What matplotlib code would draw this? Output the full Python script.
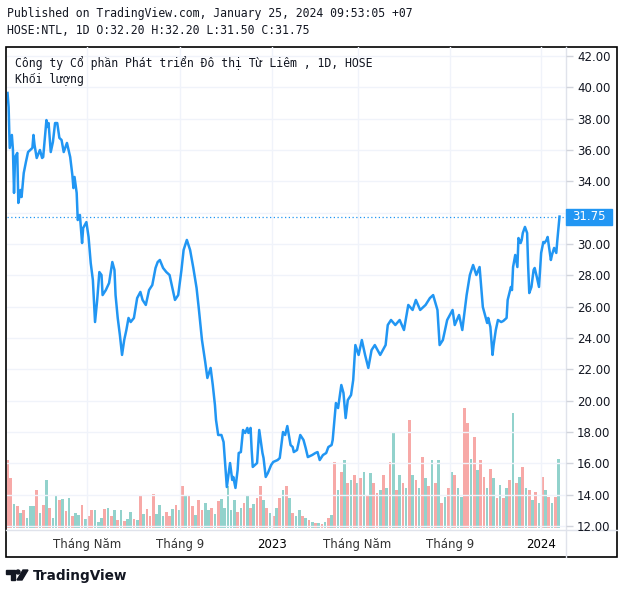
import numpy as np
import matplotlib.pyplot as plt
from matplotlib.patches import Rectangle, Polygon, Circle
import matplotlib.transforms as mtransforms

# phiên giao dịch đầu tiên trên biểu đồ và các ngày nghỉ của HOSE
start_day = '2022-01-10'
holidays = ['2022-01-31', '2022-02-01', '2022-02-02', '2022-02-03', '2022-02-04',
            '2022-04-11', '2022-05-02', '2022-05-03', '2022-09-01', '2022-09-02',
            '2023-01-02', '2023-01-20', '2023-01-23', '2023-01-24', '2023-01-25',
            '2023-01-26', '2023-05-01', '2023-05-02', '2023-05-03', '2023-09-01',
            '2023-09-04', '2024-01-01']

tick_dates = ['2022-05-04', '2022-09-05', '2023-01-03', '2023-05-04', '2023-09-05', '2024-01-02']
tick_labels = ['Tháng Năm', 'Tháng 9', '2023', 'Tháng Năm', 'Tháng 9', '2024']

# giá đóng cửa (chỉ số phiên, giá)
price_idx = [0, 1, 2, 4, 5, 6, 7, 9, 10, 12, 13, 15, 17, 19, 23, 24, 25, 27, 30, 32,
             33, 36, 37, 38, 40, 42, 44, 46, 48, 50, 52, 55, 58, 60, 61, 62, 64, 65, 67, 69,
             70, 73, 75, 77, 79,
             81, 83, 85, 87, 88, 91, 94, 97, 99, 100, 102, 104, 106, 108, 110, 112, 114, 117,
             120, 123, 125, 128, 131, 134, 137, 139, 141, 144, 147, 150, 152, 155, 158, 161,
             163, 166, 169, 172, 175, 177, 180, 183, 185, 188, 190, 192, 193,
             195, 198, 200, 203, 206, 208, 209, 211, 213, 214, 216, 218, 220, 222, 223, 225,
             226, 227, 231, 233, 236, 237, 239, 241, 244, 246, 250, 252, 255, 257, 259, 262,
             264, 265, 268, 271, 274, 276, 278, 282, 285, 287, 289, 292, 295, 297, 300, 301,
             304, 306, 309, 311, 313, 315, 318, 320,
             322, 325, 328, 331, 334, 337, 340, 345, 350, 352, 355, 359, 363, 367, 371, 375,
             378, 382, 387, 391, 394, 398, 400, 403, 407, 412, 414, 418, 421, 425, 428, 431,
             434, 437,
             440, 444, 445, 447, 449, 450, 452, 454, 457, 459, 462, 463, 466, 467, 468, 470,
             472, 473, 475, 476, 477, 479, 481, 482, 483, 485, 487, 488, 490, 492, 494, 496,
             497, 499, 500, 501, 503, 504, 506, 508, 509, 511]
price = [39.64, 38.74, 36.13, 36.96, 36.00, 33.26, 35.55, 35.81, 32.62, 33.45, 33.00, 34.53,
         35.23, 35.87, 36.13, 36.96, 36.32, 35.49, 36.00, 35.49, 35.55, 37.91, 37.47, 37.72,
         35.87, 36.51, 37.72, 37.72, 36.77, 36.64, 35.87, 36.45, 35.55, 34.40, 33.57, 34.28,
         33.26, 31.53, 31.85, 30.06, 31.02, 31.40, 30.45, 28.79, 27.70,
         25.02, 26.43, 28.21, 28.02, 26.74, 27.06, 27.51, 28.85, 28.34, 26.74, 25.28, 24.19,
         22.92, 23.87, 24.51, 25.28, 25.02, 25.28, 26.55, 26.94, 26.43, 26.11, 27.06, 27.38,
         28.47, 28.85, 28.98, 28.47, 28.21, 28.02, 27.38, 26.43, 26.74, 28.34, 29.62, 30.26,
         29.62, 28.47, 27.19, 25.92, 23.87, 22.47, 21.45, 22.09, 21.00, 19.72, 18.77,
         17.81, 17.81, 17.36, 14.49, 16.02, 14.94, 15.13, 14.43, 15.57, 16.66, 16.72, 18.13,
         17.94, 18.26, 17.94, 18.26, 16.85, 15.77, 16.02, 18.13, 16.66, 16.34, 15.13, 15.38,
         15.89, 16.09, 16.21, 16.34, 18.00, 17.81, 18.38, 17.17, 17.04, 16.72, 16.85, 17.81,
         17.49, 16.98, 16.40, 16.53, 16.66, 16.72, 16.21, 16.53, 16.66, 17.04, 17.17, 17.49,
         19.85, 19.53, 21.00, 20.49, 18.89, 20.04, 20.36, 21.32,
         23.55, 22.92, 23.87, 22.92, 22.09, 23.23, 23.55, 22.92, 23.55, 24.83, 25.15, 24.83,
         25.15, 24.51, 26.11, 25.79, 26.43, 25.79, 26.11, 26.55, 26.74, 25.79, 23.55, 23.87,
         25.15, 25.79, 24.83, 25.47, 24.51, 26.74, 28.02, 28.66, 28.02, 28.53,
         25.98, 24.96, 25.28, 24.70, 22.92, 23.55, 24.51, 25.15, 25.02, 25.09, 25.28, 26.43,
         27.26, 27.06, 28.53, 29.30, 28.53, 30.38, 30.06, 30.26, 30.70, 31.09, 30.70, 28.53,
         26.87, 27.26, 28.34, 28.47, 27.89, 27.26, 29.43, 30.13, 30.06, 30.26, 30.45, 29.94,
         28.98, 29.30, 29.75, 29.43, 30.26, 31.75]

# khối lượng (nghìn cp), mỗi cột đại diện 3 phiên
vol_step = 3
volume = [68, 50, 24, 22, 15, 18, 10, 22, 22, 38, 15, 23, 48, 20, 10, 33, 28, 29, 17, 30,
          12, 15, 13, 23, 9, 12, 18, 18, 6, 10, 19, 20, 12, 18, 8, 18, 7, 9, 16, 9,
          8, 32, 14, 19, 12, 34, 14, 23, 12, 16, 12, 19, 23, 18, 42, 33, 33, 22, 13, 28,
          18, 25, 18, 20, 14, 27, 29, 20, 42, 18, 28, 16, 20, 25, 33, 20, 24, 30, 42, 28,
          20, 15, 12, 20, 30, 38, 42, 30, 15, 12, 18, 12, 10, 8, 6, 5, 5, 4, 6, 10,
          13, 66, 38, 56, 68, 45, 48, 53, 45, 50, 56, 33, 55, 45, 35, 38, 53, 40, 66, 96,
          38, 53, 45, 40, 108, 53, 48, 40, 71, 50, 42, 68, 45, 68, 25, 31, 40, 56, 53, 40,
          31, 120, 105, 69, 91, 58, 68, 51, 40, 59, 50, 30, 43, 30, 40, 48, 115, 45, 51, 61,
          40, 38, 28, 36, 25, 51, 38, 31, 25, 31, 69]
vol_dir = ('rrtrtrttt' 'rtrtrttrtr' 'trttrtrrtt' 'trtrtrtrtt' 'rtrtrrrtttrrtr'
           'trtrrtrrtt' 'rtrtttttr' 'trtrtrrtrt' 'rtrtrtrttr' 'tr'
           'trtrtrtrtrtrtrtrtrtrrtr' 'trtrtrtrtrtrtrtrtrtr' 'trttrrtrtrr' 'trtrtrtrtrtrtrtrtrtrtrtrtrtr')

line_color = '#2196f3'
up_color = '#92d2cc'
down_color = '#f7a9a7'
grid_color = '#f0f3fa'
text_color = '#131722'

W, H = 623, 594
fig = plt.figure(figsize=(W / 100, H / 100), dpi=100)

left, right, top, bottom = 7, 566, 47, 530
ax = fig.add_axes([left / W, 1 - bottom / H, (right - left) / W, (bottom - top) / H])
ax2 = ax.twinx()
ax.set_zorder(2)
ax2.set_zorder(1)
ax.patch.set_visible(False)

def bar_no(d):
    return np.busday_count(start_day, d, holidays=holidays)

tick_pos = [bar_no(d) for d in tick_dates]

# volume
vol_x = np.arange(len(volume)) * vol_step
colors = [up_color if vol_dir[i % len(vol_dir)] == 't' else down_color for i in range(len(volume))]
ax2.bar(vol_x, volume, width=2.5, color=colors, linewidth=0)
ax2.set_ylim(-2, 481)
ax2.set_yticks([])

# price
ax.plot(price_idx, price, color=line_color, lw=1.8, solid_joinstyle='round', zorder=3)
last = price[-1]
ax.axhline(last, color=line_color, lw=0.9, ls=(0, (1, 2)), zorder=2)

ax.set_xlim(-0.5, 517)
ax.set_ylim(42 - (bottom - 56) / 15.667, 42 + (56 - top) / 15.667)

yt = np.arange(12, 43, 2)
ax.yaxis.tick_right()
ax.set_yticks(yt)
ax.set_yticklabels([f'{v:.2f}' for v in yt])
ax.set_xticks(tick_pos)
ax.set_xticklabels(tick_labels)
ax.tick_params(axis='y', length=5, width=1, color='#d1d4dc', pad=3, labelsize=8.5,
               labelcolor=text_color)
ax.tick_params(axis='x', length=0, pad=6, labelsize=8.5, labelcolor='#333333')
for lab in ax.get_xticklabels():
    if lab.get_text().isdigit():
        lab.set_color('#000000')
ax.grid(True, color=grid_color, lw=1)
for s in ax.spines.values():
    s.set_visible(False)
for s in ax2.spines.values():
    s.set_visible(False)

# nhãn giá cuối
tr = mtransforms.blended_transform_factory(ax.transAxes, ax.transData)
box_w = 46 / (right - left)
box_h = 16 / 15.667
ax.add_patch(Rectangle((1.0, last - box_h / 2), box_w, box_h, transform=tr,
                       color=line_color, clip_on=False, zorder=6))
ax.text(1.0 + box_w / 2, last, f'{last:.2f}', transform=tr, ha='center', va='center',
        color='white', fontsize=8.5, zorder=7, clip_on=False)

# khung và đường phân cách
figpx = mtransforms.Affine2D().scale(1 / W, -1 / H).translate(0, 1) + fig.transFigure
fig.add_artist(Rectangle((6, 47), 611, 510, transform=figpx, fill=False, ec='black', lw=1.2))
fig.add_artist(plt.Line2D([6, 617], [530, 530], transform=figpx, color='#e0e3eb', lw=1))
fig.add_artist(plt.Line2D([566, 566], [47, 557], transform=figpx, color='#e0e3eb', lw=1))

mono = ['DejaVu Sans Mono', 'Liberation Mono', 'Noto Sans']
fig.text(7 / W, 1 - 14 / H, 'Published on TradingView.com, January 25, 2024 09:53:05 +07',
         family=mono, fontsize=8.3, color=text_color, va='center')
fig.text(7 / W, 1 - 31 / H, 'HOSE:NTL, 1D O:32.20 H:32.20 L:31.50 C:31.75',
         family=mono, fontsize=8.3, color=text_color, va='center')
fig.text(15 / W, 1 - 63 / H, 'Công ty Cổ phần Phát triển Đô thị Từ Liêm , 1D, HOSE',
         family=mono, fontsize=8.3, color=text_color, va='center')
fig.text(15 / W, 1 - 79 / H, 'Khối lượng', family=mono, fontsize=8.3, color=text_color,
         va='center')

# logo TradingView
logo = '#131722'
fig.add_artist(Polygon([(6, 570), (15, 570), (15, 580), (11, 580), (11, 574), (6, 574)],
                       closed=True, transform=figpx, color=logo))
fig.add_artist(Circle((18, 572), 2, transform=figpx, color=logo))
fig.add_artist(Polygon([(23, 570), (28, 570), (22, 580), (17, 580)],
                       closed=True, transform=figpx, color=logo))
fig.text(33 / W, 1 - 576 / H, 'TradingView', fontsize=9.8, fontweight='bold',
         color=logo, va='center', family='DejaVu Sans')

fig.savefig('out.png', dpi=100)
